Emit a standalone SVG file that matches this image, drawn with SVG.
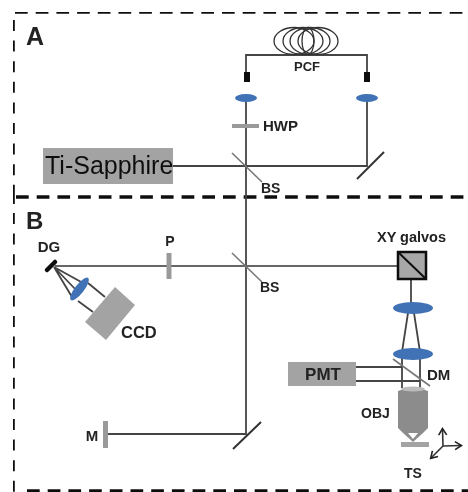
<svg xmlns="http://www.w3.org/2000/svg" width="468" height="492" viewBox="0 0 468 492">
<defs>
<marker id="ah" markerWidth="10" markerHeight="10" refX="7" refY="4.5" orient="auto" markerUnits="userSpaceOnUse"><path d="M1 0.5L7.5 4.5L1 8.5" fill="none" stroke="#222" stroke-width="1.6"/></marker>
<filter id="soft" x="0" y="0" width="100%" height="100%"><feGaussianBlur stdDeviation="0.5"/></filter>
</defs>
<style>
text{font-family:"Liberation Sans",Arial,sans-serif;font-weight:bold;fill:#222}
.dash{fill:none;stroke:#111;stroke-width:3.6}
.beam{fill:none;stroke:#666;stroke-width:2}
.thin{fill:none;stroke:#444;stroke-width:1.8}
.lens{fill:#3f72b5}
.gray{fill:#a3a3a3}
.opt{fill:none;stroke:#9a9a9a;stroke-width:4}
.mir{fill:none;stroke:#333;stroke-width:2}
.bs{fill:none;stroke:#777;stroke-width:1.6}
</style>
<rect width="468" height="492" fill="#fff"/>
<g filter="url(#soft)">
<g id="frames">
<path class="dash" stroke-dasharray="12.7 8" d="M15 12H468"/>
<path class="dash" stroke-dasharray="11 9.6" d="M13 20V186"/>
<path class="dash" stroke-dasharray="11 9.6" d="M13 213V492"/>
<path class="dash" stroke-dasharray="12.7 8" d="M16 197H468"/>
<path d="M13 186V204" fill="none" stroke="#111" stroke-width="3.6"/>
<path class="dash" stroke-dasharray="12.7 8" d="M27 491H468"/>
</g>
<g id="connectors">
<path class="thin" d="M173 166H367V98"/>
<path class="thin" d="M246 98V434H108"/>
<path class="thin" d="M246 78V55H367V78"/>
<path class="beam" d="M55 266H397"/>
<path class="thin" d="M411 280V305"/>
<path class="thin" d="M408 313L402 352M414 313L420 352M402 356V388M420 356V388"/>
<path class="thin" d="M356 367H402M356 381H420"/>
<path class="thin" d="M54 267L83 283M54 267L77 291M54 267L72 297M88 283L105 297M78 301L93 312"/>
</g>
<g id="coil" fill="none" stroke="#333" stroke-width="1.3">
<ellipse cx="294" cy="41" rx="20" ry="13.5"/>
<ellipse cx="303" cy="41" rx="20" ry="13.5"/>
<ellipse cx="310" cy="41" rx="20" ry="13.5"/>
<ellipse cx="318" cy="41" rx="20" ry="13.5"/>
<ellipse cx="308" cy="41" rx="6" ry="13.5"/>
</g>
<g id="pcf"><rect x="244" y="72" width="6" height="10" fill="#111"/><rect x="364" y="72" width="6" height="10" fill="#111"/><text x="307" y="71" font-size="13" text-anchor="middle">PCF</text></g>
<g id="lens1"><ellipse class="lens" cx="246" cy="98" rx="11" ry="4"/></g>
<g id="lens2"><ellipse class="lens" cx="367" cy="98" rx="11" ry="4"/></g>
<g id="hwp"><path class="opt" d="M232 126H259"/><text x="263" y="131" font-size="15">HWP</text></g>
<g id="ti-sapphire"><rect class="gray" x="43" y="148" width="130" height="36"/><text x="45" y="174" font-size="25" style="font-weight:normal;fill:#111">Ti-Sapphire</text></g>
<g id="bs1"><path class="bs" d="M232 153L262 182"/><text x="261" y="193" font-size="14">BS</text></g>
<g id="mirror1"><path class="mir" d="M357 179L384 152"/></g>
<g id="label-a"><text x="26" y="45" font-size="25">A</text></g>
<g id="label-b"><text x="26" y="229" font-size="24">B</text></g>
<g id="dg"><path d="M47 270L55 262" stroke="#111" stroke-width="4.5" stroke-linecap="round"/><text x="49" y="252" font-size="15" text-anchor="middle">DG</text></g>
<g id="lens3"><ellipse class="lens" cx="79.500" cy="289" rx="14" ry="4.500" transform="rotate(-52 79.500 289)"/></g>
<g id="ccd"><path class="gray" d="M115 287L135 305L106 340L85 322Z"/><text x="121" y="338" font-size="16.500">CCD</text></g>
<g id="p"><path class="opt" d="M169 253V279" style="stroke-width:5"/><text x="170" y="246" font-size="14" text-anchor="middle">P</text></g>
<g id="bs2"><path class="bs" d="M232 253L262 282"/><text x="260" y="292" font-size="14">BS</text></g>
<g id="galvos"><rect x="398" y="252" width="28" height="27" fill="#a8a8a8" stroke="#111" stroke-width="2.500"/><path d="M398 252L426 279" stroke="#111" stroke-width="2"/><text x="377" y="242" font-size="14.500">XY galvos</text></g>
<g id="lens4"><ellipse class="lens" cx="413" cy="308" rx="20" ry="6"/></g>
<g id="lens5"><ellipse class="lens" cx="413" cy="354" rx="20" ry="6"/></g>
<g id="pmt"><rect class="gray" x="288" y="362" width="68" height="24"/><text x="323" y="380" font-size="17" text-anchor="middle">PMT</text></g>
<g id="dm"><path class="bs" d="M393 359L430 386"/><text x="427" y="380" font-size="15">DM</text></g>
<g id="obj"><path d="M398 391Q413 385 428 391V428L423 433L413 442L403 433L398 428Z" fill="#8c8c8c"/><path d="M408 433H418L413 439Z" fill="#fff"/><ellipse cx="413" cy="389" rx="12" ry="2.500" fill="#bbb"/><text x="361" y="418" font-size="14">OBJ</text></g>
<g id="ts"><rect x="401" y="442" width="28" height="5" fill="#a3a3a3"/><text x="413" y="478" font-size="14" text-anchor="middle">TS</text></g>
<g id="axes" fill="none" stroke="#333" stroke-width="1.600"><path d="M443 446L442.500 429" marker-end="url(#ah)"/><path d="M443 446L461 445.500" marker-end="url(#ah)"/><path d="M443 446L431 458" marker-end="url(#ah)"/></g>
<g id="m"><path class="opt" d="M105.500 421V448" style="stroke-width:5"/><text x="92" y="441" font-size="15" text-anchor="middle">M</text></g>
<g id="mirror2"><path class="mir" d="M233 449L261 422"/></g>
</g>
</svg>
